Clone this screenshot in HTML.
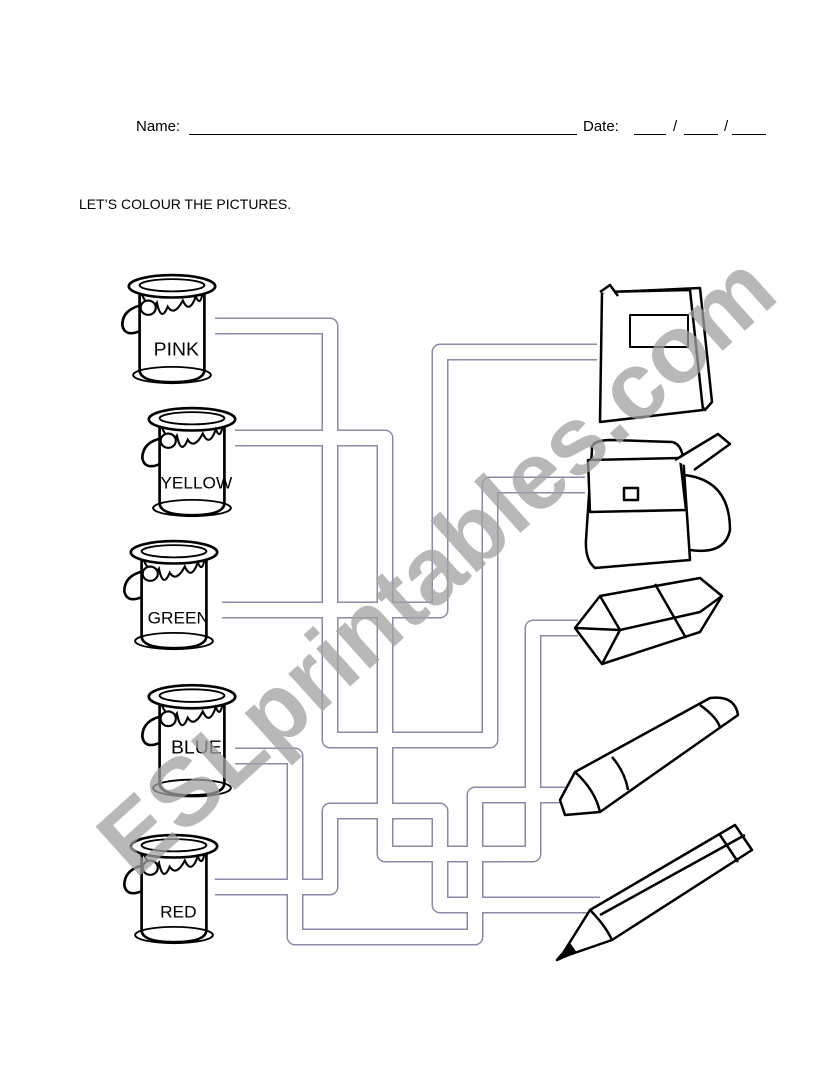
<!DOCTYPE html>
<html><head><meta charset="utf-8"><style>
html,body{margin:0;padding:0;background:#fff;}
body{width:838px;height:1086px;position:relative;overflow:hidden;font-family:"Liberation Sans",sans-serif;}
.t{position:absolute;color:#000;font-size:15px;white-space:pre;}
</style></head><body>
<div class="t" style="left:136px;top:118px;">Name:</div>
<div style="position:absolute;left:189px;top:134px;width:388px;border-top:1px solid #000"></div>
<div class="t" style="left:583px;top:118px;">Date:</div>
<div style="position:absolute;left:634px;top:134px;width:32px;border-top:1px solid #000"></div>
<div class="t" style="left:673px;top:118px;">/</div>
<div style="position:absolute;left:684px;top:134px;width:34px;border-top:1px solid #000"></div>
<div class="t" style="left:724px;top:118px;">/</div>
<div style="position:absolute;left:732px;top:134px;width:34px;border-top:1px solid #000"></div>
<div class="t" style="left:79px;top:196px;font-size:14px;">LET’S COLOUR THE PICTURES.</div>
<svg width="838" height="1086" style="position:absolute;left:0;top:0">
<defs>
<g id="pot">
<path d="M20,16 L20,96 Q20,108 50,108 Q80,108 80,96 L80,16" fill="#fff" stroke="#000" stroke-width="2.5"/>
<ellipse cx="50" cy="14" rx="40" ry="11" fill="#fff" stroke="#000" stroke-width="2.5"/>
<ellipse cx="50" cy="13" rx="30" ry="6" fill="none" stroke="#000" stroke-width="1.8"/>
<path d="M22,22 Q30,40 36,30 Q40,50 46,34 Q52,44 60,28 Q66,42 72,24 Q76,34 78,22" fill="none" stroke="#000" stroke-width="2"/>
<ellipse cx="50" cy="101" rx="36" ry="8" fill="none" stroke="#000" stroke-width="1.8"/>
<path d="M24,32 Q4,36 4,52 Q6,64 20,58" fill="none" stroke="#000" stroke-width="2.5"/>
<circle cx="28" cy="35" r="7" fill="#fff" stroke="#000" stroke-width="2"/>
</g>
</defs>
<g fill="none" stroke-linejoin="round" stroke-linecap="butt">
<g stroke="#8a8aa8" stroke-width="17">
<polyline points="215,326 330,326 330,740 490,740 490,485 585,485"/>
<polyline points="235,438 385,438 385,854 533,854 533,628 578,628"/>
<polyline points="222,610 440,610 440,352 597,352"/>
<polyline points="235,756 295,756 295,937 475,937 475,795 565,795"/>
<polyline points="215,887 330,887 330,811 440,811 440,905 600,905"/>
</g>
<g stroke="#fff" stroke-width="14">
<polyline points="212,326 330,326 330,740 490,740 490,485 588,485"/>
<polyline points="232,438 385,438 385,854 533,854 533,628 581,628"/>
<polyline points="219,610 440,610 440,352 600,352"/>
<polyline points="232,756 295,756 295,937 475,937 475,795 568,795"/>
<polyline points="212,887 330,887 330,811 440,811 440,905 603,905"/>
</g>
</g>
<g font-family="Liberation Sans, sans-serif" font-size="18" text-anchor="middle">
<g transform="translate(118,272) scale(1.08,1.02)"><use href="#pot"/><text x="54" y="82">PINK</text></g>
<g transform="translate(138,405) scale(1.08,1.02)"><use href="#pot"/><text x="54" y="82" font-size="16">YELLOW</text></g>
<g transform="translate(120,538) scale(1.08,1.02)"><use href="#pot"/><text x="54" y="84" font-size="16">GREEN</text></g>
<g transform="translate(138,682) scale(1.08,1.05)"><use href="#pot"/><text x="54" y="68">BLUE</text></g>
<g transform="translate(120,832) scale(1.08,1.02)"><use href="#pot"/><text x="54" y="84" font-size="16">RED</text></g>
</g>
<g fill="#fff" stroke="#000" stroke-width="2.5" stroke-linejoin="round">
<path d="M612,292 L700,288 L712,402 L705,410 Z"/>
<path d="M602,292 L690,290 L703,410 L600,422 Z"/>
<path d="M600,292 L610,285 L618,296"/>
<rect x="630" y="315" width="58" height="32" stroke-width="2"/>
<path d="M592,450 Q590,440 612,440 L672,442 Q684,444 684,470 L690,560 L595,568 Q585,560 586,540 Z"/>
<path d="M588,460 L680,458 L686,510 L590,512 Z"/>
<path d="M675,460 L718,434 L730,444 L694,470"/>
<path d="M684,475 Q730,480 730,530 Q725,555 690,550" fill="none"/>
<rect x="624" y="488" width="14" height="12"/>
<path d="M575,628 L600,596 L700,578 L722,596 L700,632 L602,664 Z"/>
<path d="M600,596 L620,630 L575,628 M620,630 L700,612 L722,596 M620,630 L602,664 M655,584 L686,638" fill="none"/>
<path d="M560,800 L575,772 L710,698 Q735,695 738,715 L600,812 L565,815 Z"/>
<path d="M575,772 Q595,790 600,812 M700,705 Q718,718 720,728 M612,757 Q625,772 628,790" fill="none"/>
<path d="M560,958 L590,910 L735,825 L752,850 L612,940 Z"/>
<path d="M590,910 Q605,925 612,940 M600,915 L745,835 M720,835 L738,862" fill="none"/>
<path d="M557,960 L570,945 L575,952 Z" fill="#000"/>
</g>
<text x="0" y="0" transform="translate(135,880) rotate(-42)" font-family="Liberation Sans, sans-serif" font-weight="bold" font-size="96" fill="#a0a0a0" fill-opacity="0.75">ESLprintables.com</text>
</svg>
</body></html>
